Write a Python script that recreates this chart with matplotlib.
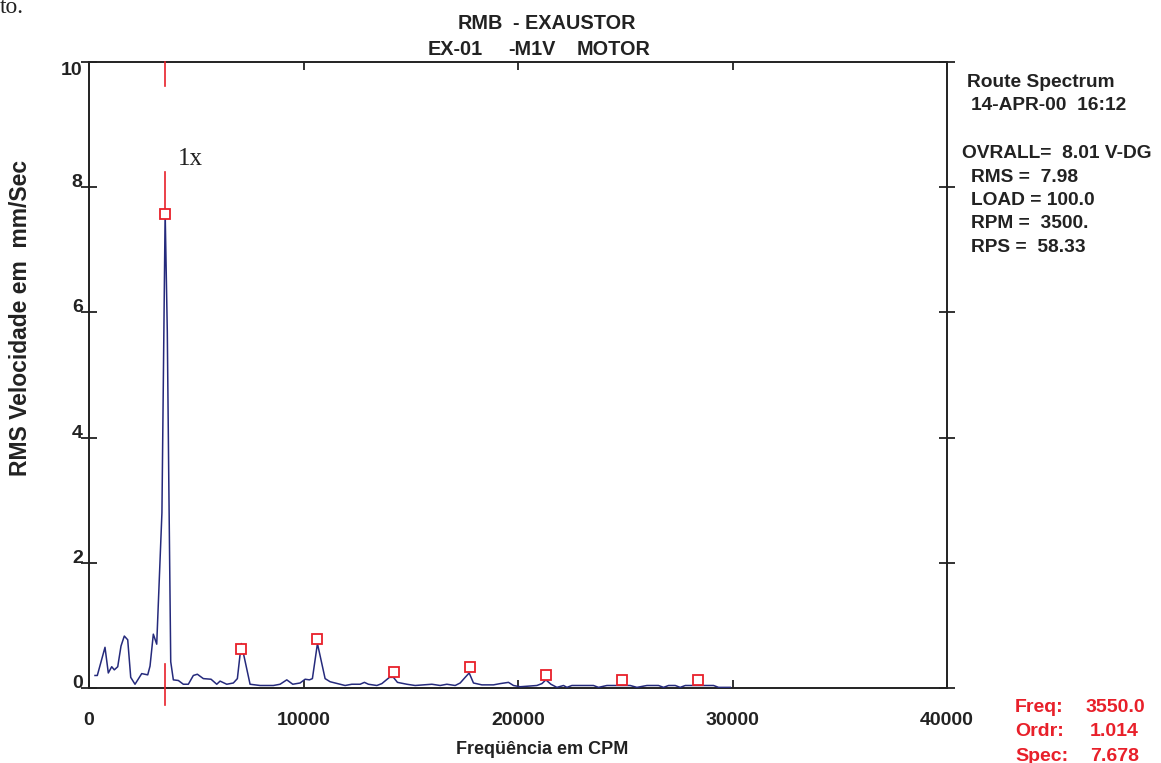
import matplotlib
matplotlib.use("Agg")
import matplotlib.pyplot as plt

# ---------------- data ----------------
freq_cpm = [280, 387, 746, 900, 1059, 1180, 1339, 1492, 1646, 1805, 1945, 2145,
            2458, 2738, 2845, 2999, 3078, 3157, 3400, 3550, 3650, 3720, 3810,
            3932, 4165, 4398, 4631, 4864, 5051, 5331, 5690, 5956, 6110, 6422,
            6730, 6917, 7100, 7509, 7976, 8596, 8908, 9221, 9500, 9841, 10075,
            10275, 10415, 10650, 11007, 11240, 11940, 12252, 12640, 12840,
            13027, 13419, 13652, 14006, 14193, 14380, 14818, 15205, 15592,
            15984, 16371, 16684, 17071, 17304, 17537, 17724, 17924, 18316,
            18856, 19169, 19556, 19790, 20103, 20881, 21114, 21301, 21534,
            21814, 22122, 22281, 22513, 23520, 23753, 24145, 25232, 25544,
            26011, 26552, 26785, 27018, 27330, 27563, 27799, 29118, 29351,
            29897]
amp_mm_s = [0.20, 0.20, 0.65, 0.24, 0.34, 0.29, 0.34, 0.67, 0.83, 0.77, 0.17, 0.06,
            0.23, 0.21, 0.35, 0.86, 0.78, 0.70, 2.80, 7.60, 5.70, 3.30, 0.42,
            0.13, 0.12, 0.06, 0.06, 0.20, 0.22, 0.15, 0.14, 0.06, 0.11, 0.06,
            0.08, 0.15, 0.71, 0.06, 0.04, 0.04, 0.06, 0.13, 0.06, 0.08, 0.14,
            0.13, 0.15, 0.71, 0.15, 0.10, 0.04, 0.06, 0.06, 0.09,
            0.06, 0.04, 0.07, 0.17, 0.17, 0.09, 0.06, 0.04, 0.05,
            0.06, 0.04, 0.06, 0.04, 0.08, 0.17, 0.24, 0.08, 0.05,
            0.05, 0.07, 0.09, 0.04, 0.02, 0.04, 0.07, 0.13, 0.06,
            0.01, 0.04, 0.01, 0.04, 0.04, 0.01, 0.04, 0.04, 0.01,
            0.04, 0.04, 0.01, 0.04, 0.04, 0.01, 0.04, 0.04, 0.01,
            0.01]

harm_freq = [3550, 7100, 10650, 14200, 17750, 21300, 24850, 28400]
harm_amp = [7.57, 0.62, 0.78, 0.25, 0.34, 0.21, 0.12, 0.12]

cursor_freq = 3550
cursor_segments = [(10.0, 9.62), (8.24, 7.66), (0.38, -0.27)]

x_ticks = [0, 10000, 20000, 30000, 40000]
y_ticks = [0, 2, 4, 6, 8, 10]

title_line1 = [("RMB", 458), ("- EXAUSTOR", 513)]
title_line2 = [("EX-01", 428), ("-M1V", 508), ("MOTOR", 577)]
info_lines = [("Route Spectrum", 967, 87), ("14-APR-00  16:12", 971, 110),
              ("OVRALL=  8.01 V-DG", 962, 158), ("RMS =  7.98", 971, 182),
              ("LOAD = 100.0", 971, 205), ("RPM =  3500.", 971, 228),
              ("RPS =  58.33", 971, 252)]
cursor_labels = ["Freq:", "Ordr:", "Spec:"]
cursor_values = ["3550.0", "1.014", "7.678"]

# ---------------- figure ----------------
W, H = 1161, 763
plt.rcParams['font.family'] = ['Liberation Sans', 'DejaVu Sans']
fig = plt.figure(figsize=(W / 100, H / 100), dpi=100)
ax = fig.add_axes([89 / W, 1 - 688 / H, (947 - 89) / W, (688 - 62) / H])

navy = "#252a7c"
red = "#e8202a"
dark = "#222222"

ax.plot(freq_cpm, amp_mm_s, color=navy, lw=1.1, zorder=3)
ax.plot(harm_freq, harm_amp, ls="none", marker="s", ms=7.5, mfc="white",
        mec=red, mew=1.3, zorder=4)
for y0, y1 in cursor_segments:
    ax.plot([cursor_freq, cursor_freq], [y0, y1], color=red, lw=1.2,
            clip_on=False, zorder=5)

ax.text(cursor_freq + 600, 8.45, "1x", family=["Liberation Serif", "DejaVu Serif"],
        fontsize=18, color="#222222", va="center", ha="left")

ax.set_xlim(0, 40000)
ax.set_ylim(0, 10)
ax.set_xticks(x_ticks)
ax.set_xticklabels([str(v) for v in x_ticks], fontsize=14, fontweight="bold", color=dark)
ax.set_yticks(y_ticks)
ax.set_yticklabels([str(v) for v in y_ticks], fontsize=14, fontweight="bold", color=dark)

for sp in ax.spines.values():
    sp.set_color(dark)
    sp.set_linewidth(1.4)

ax.tick_params(axis="y", which="both", direction="inout", length=11, width=1.3,
               color=dark, left=True, right=True, pad=-1)
ax.tick_params(axis="x", which="both", direction="in", length=6, width=1.3,
               color=dark, top=True, bottom=True, pad=17)
ylabels = ax.get_yticklabels()
for i, lbl in enumerate(ylabels):
    lbl.set_va("top" if i == len(ylabels) - 1 else "baseline")

ax.set_xlabel("Freqüência em CPM", fontsize=13, fontweight="bold", color=dark)
ax.xaxis.set_label_coords(0.528, -0.085)
ax.set_ylabel("RMS Velocidade em  mm/Sec", fontsize=16.5, fontweight="bold", color=dark)
ax.yaxis.set_label_coords(-0.067, 0.591)

def fx(px):
    return px / W

def fy(py):
    return 1 - py / H

for txt, px in title_line1:
    fig.text(fx(px), fy(29), txt, fontsize=14.3, fontweight="bold", color=dark,
             ha="left", va="baseline")
for txt, px in title_line2:
    fig.text(fx(px), fy(55), txt, fontsize=14.3, fontweight="bold", color=dark,
             ha="left", va="baseline")

for txt, px, py in info_lines:
    fig.text(fx(px), fy(py), txt, fontsize=13.8, fontweight="bold", color=dark,
             ha="left", va="baseline")

value_right = [1145, 1139, 1139]
for i, (lab, val) in enumerate(zip(cursor_labels, cursor_values)):
    py = 712 + i * 24.5
    fig.text(fx(1015), fy(py), lab, fontsize=14, fontweight="bold", color=red,
             ha="left", va="baseline")
    fig.text(fx(value_right[i]), fy(py), val, fontsize=14, fontweight="bold",
             color=red, ha="right", va="baseline")

fig.text(fx(24), fy(13), "to.", family=["Liberation Serif", "DejaVu Serif"],
         fontsize=17, color="#222222", ha="right", va="baseline")

fig.savefig("out.png", dpi=100)
